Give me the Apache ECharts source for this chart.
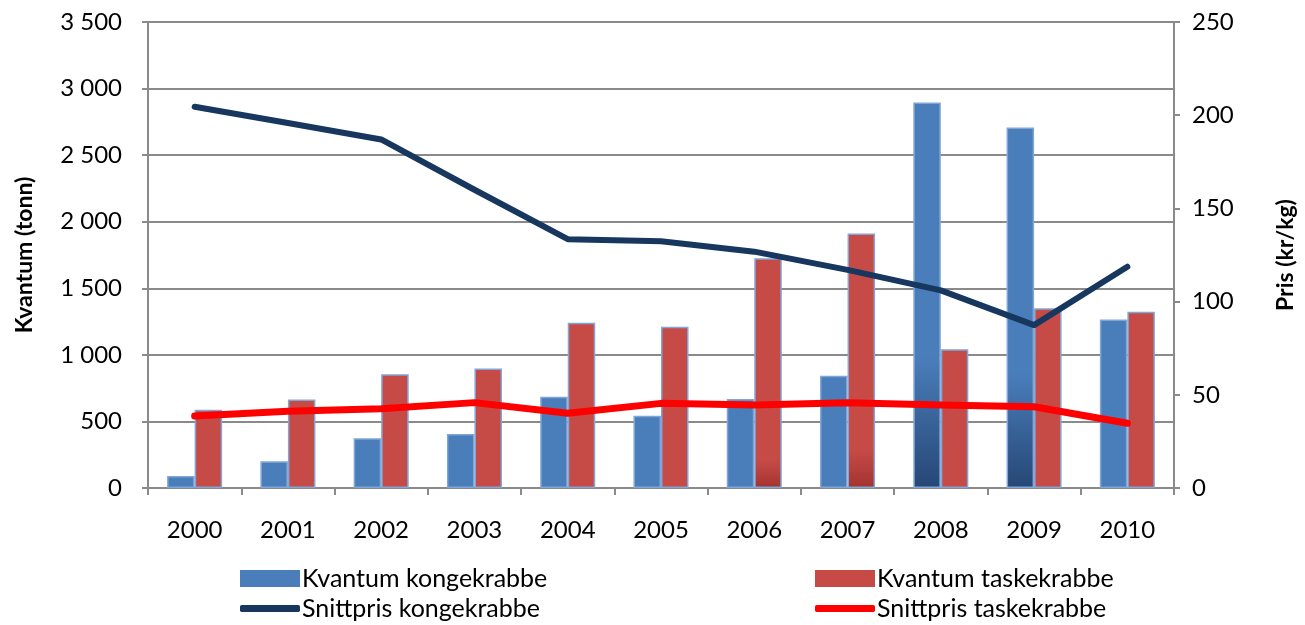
<!DOCTYPE html>
<html>
<head>
<meta charset="utf-8">
<script src="https://cdn.jsdelivr.net/npm/echarts@6/dist/echarts.min.js"></script>
<style>
  html, body { margin: 0; padding: 0; background: #fff; }
  #chart { width: 1305px; height: 625px; }
</style>
</head>
<body>
<div id="chart"></div>
<script>
// data
let years = ['2000', '2001', '2002', '2003', '2004', '2005', '2006', '2007', '2008', '2009', '2010'];
let kvantumKonge = [90, 200, 373, 405, 685, 543, 668, 843, 2895, 2708, 1265];
let kvantumTaske = [588, 665, 855, 898, 1242, 1212, 1725, 1912, 1042, 1350, 1324];
let prisKonge = [204.5, 195.8, 187, 160, 133.5, 132.4, 126.8, 117, 106, 87.4, 118.7];
let prisTaske = [38.6, 41.2, 42.5, 45.8, 40.1, 45.4, 44.5, 45.8, 44.5, 43.6, 34.7];

let leftTicks = [0, 500, 1000, 1500, 2000, 2500, 3000, 3500];
let rightTicks = [0, 50, 100, 150, 200, 250];

const FONT = 'Lato';
const AXIS_GRAY = '#8a8a8a';
const BLUE = '#4a7ebb';
const RED = '#c64b47';
const NAVY = '#17375e';
const BRIGHT_RED = '#ff0000';

// darker foot on some bars (the original has it), index -> where shading starts
let blueShade = { 8: 0.66, 9: 0.68 };
let redShade = { 6: 0.88, 7: 0.85 };

function shadeData(values, shade, base, dark) {
    return values.map((v, i) => {
        if (shade[i] === undefined) return v;
        return {
            value: v,
            itemStyle: {
                color: new echarts.graphic.LinearGradient(0, 0, 0, 1, [
                    { offset: 0, color: base },
                    { offset: shade[i], color: base },
                    { offset: 1, color: dark }
                ])
            }
        };
    });
}

// 3500 -> "3 500"
function spaced(v) {
    return String(v).replace(/\B(?=(\d{3})+(?!\d))/g, ' ');
}

// one legend box per entry, laid out like the excel legend (2 x 2)
function legendItem(name, left, centerY, iconH, icon) {
    return {
        left: left,
        top: centerY - 13,
        padding: 0,
        itemWidth: 60,
        itemHeight: iconH,
        icon: icon,
        itemStyle: { borderWidth: 0 },
        textStyle: { fontFamily: FONT, fontSize: 25, color: '#000', padding: [0, 0, 0, -3] },
        data: [name]
    };
}

let chart = echarts.init(document.getElementById('chart'), null, { renderer: 'canvas' });

chart.setOption({
    animation: false,
    backgroundColor: '#fff',
    textStyle: { fontFamily: FONT },
    grid: { left: 148, right: 125, top: 22, bottom: 137, containLabel: false },
    legend: [
        legendItem('Kvantum kongekrabbe', 240, 579, 17, 'rect'),
        legendItem('Snittpris kongekrabbe', 240, 609, 7, 'roundRect'),
        legendItem('Kvantum taskekrabbe', 815, 579, 17, 'rect'),
        legendItem('Snittpris taskekrabbe', 815, 609, 7, 'roundRect')
    ],
    xAxis: {
        type: 'category',
        data: years,
        boundaryGap: true,
        axisLine: { lineStyle: { color: AXIS_GRAY, width: 2 } },
        axisTick: { show: true, length: 7, lineStyle: { color: AXIS_GRAY, width: 2 } },
        axisLabel: { fontFamily: FONT, fontSize: 24, color: '#000', margin: 30 }
    },
    yAxis: [
        {
            type: 'value',
            position: 'left',
            min: leftTicks[0],
            max: leftTicks[leftTicks.length - 1],
            interval: 500,
            name: 'Kvantum (tonn)',
            nameLocation: 'middle',
            nameGap: 112,
            nameRotate: 90,
            nameTextStyle: { fontFamily: FONT, fontSize: 23, fontWeight: 'bold', color: '#000' },
            axisLine: { show: true, lineStyle: { color: AXIS_GRAY, width: 2 } },
            axisTick: { show: true, length: 6, lineStyle: { color: AXIS_GRAY, width: 2 } },
            axisLabel: { fontFamily: FONT, fontSize: 24, color: '#000', margin: 26, formatter: spaced },
            splitLine: { show: true, lineStyle: { color: AXIS_GRAY, width: 2 } }
        },
        {
            type: 'value',
            position: 'right',
            min: rightTicks[0],
            max: rightTicks[rightTicks.length - 1],
            interval: 50,
            name: 'Pris (kr/kg)',
            nameLocation: 'middle',
            nameGap: 100,
            nameRotate: 90,
            nameTextStyle: { fontFamily: FONT, fontSize: 23, fontWeight: 'bold', color: '#000' },
            axisLine: { show: true, lineStyle: { color: AXIS_GRAY, width: 2 } },
            axisTick: { show: true, length: 6, lineStyle: { color: AXIS_GRAY, width: 2 } },
            axisLabel: { fontFamily: FONT, fontSize: 24, color: '#000', margin: 18 },
            splitLine: { show: false }
        }
    ],
    series: [
        {
            name: 'Kvantum kongekrabbe',
            type: 'bar',
            yAxisIndex: 0,
            barGap: '0%',
            barCategoryGap: '41%',
            itemStyle: { color: BLUE, borderColor: '#7fa6d6', borderWidth: 1.5 },
            data: shadeData(kvantumKonge, blueShade, BLUE, '#264775')
        },
        {
            name: 'Kvantum taskekrabbe',
            type: 'bar',
            yAxisIndex: 0,
            barGap: '0%',
            barCategoryGap: '41%',
            itemStyle: { color: RED, borderColor: '#7fa6d6', borderWidth: 1.5 },
            data: shadeData(kvantumTaske, redShade, RED, '#a3332f')
        },
        {
            name: 'Snittpris kongekrabbe',
            type: 'line',
            yAxisIndex: 1,
            symbol: 'none',
            lineStyle: { color: NAVY, width: 6, cap: 'round', join: 'round' },
            itemStyle: { color: NAVY },
            data: prisKonge
        },
        {
            name: 'Snittpris taskekrabbe',
            type: 'line',
            yAxisIndex: 1,
            symbol: 'none',
            lineStyle: { color: BRIGHT_RED, width: 7, cap: 'round', join: 'round' },
            itemStyle: { color: BRIGHT_RED },
            data: prisTaske
        }
    ]
});
</script>
</body>
</html>
